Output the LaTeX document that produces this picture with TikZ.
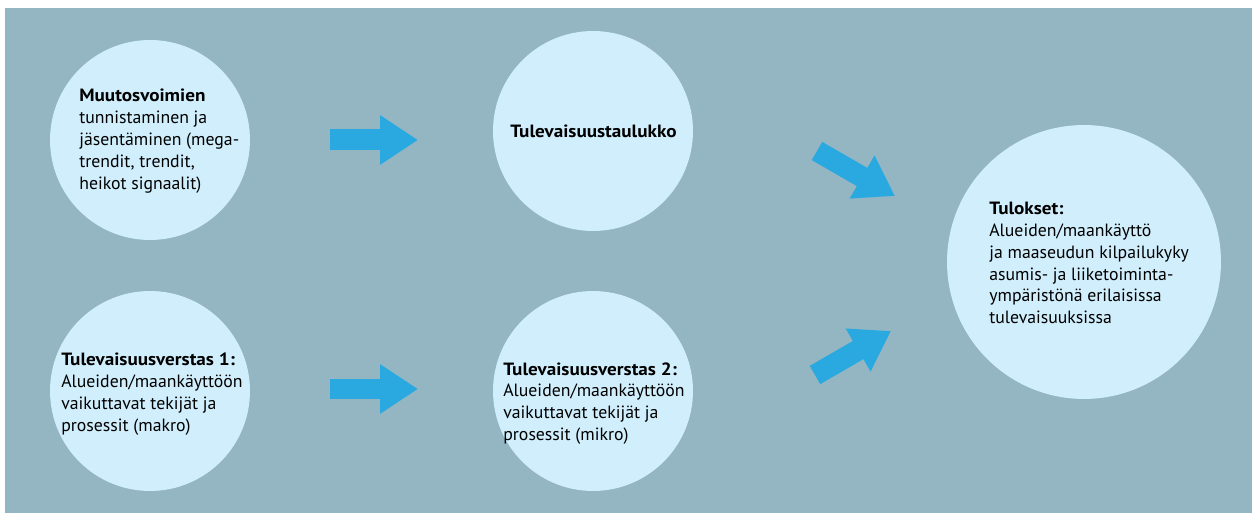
\documentclass[tikz,border=0pt]{standalone}
\usepackage{fontspec}
\setmainfont[BoldFeatures={FakeStretch=1.08}]{PT Sans}
\usetikzlibrary{arrows.meta,positioning}
\definecolor{panelblue}{HTML}{94B5C2}
\definecolor{bubblefill}{HTML}{D0EEFB}
\definecolor{arrowblue}{HTML}{29A9DF}
\tikzset{
  bubble/.style={circle,fill=bubblefill,minimum size=4cm,inner sep=0pt},
  txt/.style={align=left,anchor=north west,inner sep=0pt,
    font=\fontsize{10.1}{12.4}\selectfont},
  fatarrow/.style={draw=arrowblue,line width=0.42cm,
    -{Triangle[length=0.76cm,width=0.94cm]}}
}

\begin{document}
\begin{tikzpicture}[x=0.02cm,y=-0.02cm]
            \useasboundingbox (0,0) rectangle (1252,513);
            \fill[panelblue] (5,8) rectangle (1252,513);

            % circles
            \node[bubble] (forces) at (150,140) {};
            \node[bubble] (table) at (593,131) {};
            \node[bubble] (ws1) at (150,391) {};
            \node[bubble] (ws2) at (593,391) {};
            \node[bubble,minimum size=5.48cm] (results) at (1084,262) {};

            % texts
            \node[txt] (forcestxt) at (79,89) {\textbf{Muutosvoimien}\\tunnistaminen ja\\j\"asent\"aminen (mega-\\trendit, trendit,\\heikot signaalit)};
            \node[txt,anchor=west] (tabletxt) at (510,131) {\textbf{Tulevaisuustaulukko}};
            \node[txt] (ws1txt) at (61,353) {\textbf{Tulevaisuusverstas 1:}\\Alueiden/maank\"aytt\"o\"on\\vaikuttavat tekij\"at ja\\prosessit (makro)};
            \node[txt] (ws2txt) at (503,362) {\textbf{Tulevaisuusverstas 2:}\\Alueiden/maank\"aytt\"o\"on\\vaikuttavat tekij\"at ja\\prosessit (mikro)};
            \node[txt] (resultstxt) at (989,202) {\textbf{Tulokset:}\\Alueiden/maank\"aytt\"o\\ja maaseudun kilpailukyky\\asumis- ja liiketoiminta-\\ymp\"arist\"on\"a erilaisissa\\tulevaisuuksissa};

            % arrows
            \coordinate (a1s) at (330,140);
            \coordinate (a1e) at (418,140);
            \coordinate (a2s) at (330,389);
            \coordinate (a2e) at (418,389);
            \coordinate (a3s) at (817,151);
            \coordinate (a3e) at (895,196);
            \coordinate (a4s) at (815,375);
            \coordinate (a4e) at (891,331);
            \draw[fatarrow] (a1s) -- (a1e);
            \draw[fatarrow] (a2s) -- (a2e);
            \draw[fatarrow] (a3s) -- (a3e);
            \draw[fatarrow] (a4s) -- (a4e);
\end{tikzpicture}
\end{document}
